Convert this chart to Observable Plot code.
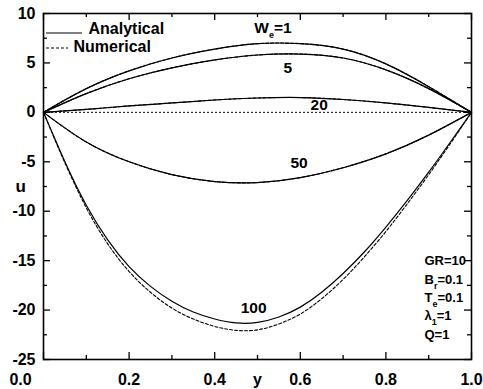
<!DOCTYPE html>
<html>
<head>
<meta charset="utf-8">
<script src="https://cdn.jsdelivr.net/npm/d3@7"></script>
<script src="https://cdn.jsdelivr.net/npm/@observablehq/plot@0.6"></script>
<style>
  body { margin: 0; background: #fff; }
  svg, svg text, svg tspan { font-family: "Liberation Sans", Arial, sans-serif !important; font-weight: 700 !important; }
</style>
</head>
<body>
<div id="chart"></div>
<script>
// Channel position y (0..1) and velocity u for each Weissenberg number
const yPos = [0, 0.1, 0.2, 0.3, 0.4, 0.5, 0.6, 0.7, 0.8, 0.9, 1.0];
const uWe1  = [0, 2.4, 4.2, 5.5, 6.4, 6.95, 6.95, 6.4, 4.9, 2.6, 0];
const uWe5  = [0, 1.9, 3.4, 4.5, 5.3, 5.8, 5.9, 5.5, 4.3, 2.4, 0];
const uWe20 = [0, 0.3, 0.65, 0.95, 1.25, 1.45, 1.5, 1.3, 0.95, 0.5, 0];
const uWe50 = [0, -3.0, -5.0, -6.3, -7.0, -7.1, -6.6, -5.6, -4.2, -2.3, 0];

const yFine = [0, 0.05, 0.1, 0.15, 0.2, 0.25, 0.3, 0.35, 0.4, 0.45, 0.5,
               0.55, 0.6, 0.65, 0.7, 0.75, 0.8, 0.85, 0.9, 0.95, 1.0];
const uWe100    = [0, -5.0, -9.4, -12.9, -15.6, -17.6, -19.1, -20.2, -20.9, -21.3, -21.25,
                   -20.7, -19.7, -18.2, -16.3, -14.1, -11.6, -8.9, -6.05, -3.05, 0];
const uWe100Num = [0, -5.1, -9.65, -13.3, -16.1, -18.2, -19.8, -20.9, -21.65, -22.05, -22.0,
                   -21.4, -20.4, -18.85, -16.9, -14.6, -12.05, -9.25, -6.3, -3.2, 0];

const weValues = [1, 5, 20, 50, 100];
const labelX = [0.536, 0.571, 0.644, 0.597, 0.491];
const labelU = [8.55, 4.45, 0.76, -5.16, -19.78];

const xTicks = [0, 0.2, 0.4, 0.6, 0.8, 1.0];
const xMinor = [0.1, 0.3, 0.5, 0.7, 0.9];
const yTicks = [-25, -20, -15, -10, -5, 0, 5, 10];
const yMinor = [-22.5, -17.5, -12.5, -7.5, -2.5, 2.5, 7.5];

const params = ["GR=10", "B_r=0.1", "T_e=0.1", "λ_1=1", "Q=1"];

// Long-format rows for the line marks
const toRows = (ys, us, we) => ys.map((y, i) => ({y, u: us[i], We: we}));
const analytical = [
  ...toRows(yPos, uWe1, 1),
  ...toRows(yPos, uWe5, 5),
  ...toRows(yPos, uWe20, 20),
  ...toRows(yPos, uWe50, 50),
  ...toRows(yFine, uWe100, 100)
];
const numerical = [
  ...toRows(yPos, uWe1, 1),
  ...toRows(yPos, uWe5, 5),
  ...toRows(yPos, uWe20, 20),
  ...toRows(yPos, uWe50, 50),
  ...toRows(yFine, uWe100Num, 100)
];

const W = 483, H = 389, mL = 43, mR = 12, mT = 13, mB = 30;
const fw = W - mL - mR, fh = H - mT - mB;
const tickFont = {fontSize: 16, fontWeight: "bold", fill: "black"};
const labelFont = {fontSize: 15.5, fontWeight: "bold", fill: "black"};

const plot = Plot.plot({
  width: W, height: H,
  marginLeft: mL, marginRight: mR, marginTop: mT, marginBottom: mB,
  x: {domain: [0, 1]},
  y: {domain: [-25, 10]},
  style: {fontFamily: "'Liberation Sans', Arial, sans-serif", background: "white", color: "black"},
  marks: [
    Plot.ruleY([0], {stroke: "black", strokeWidth: 1, strokeDasharray: "2,2"}),
    Plot.line(analytical, {x: "y", y: "u", z: "We", curve: "natural", stroke: "black", strokeWidth: 1.2}),
    Plot.line(numerical, {x: "y", y: "u", z: "We", curve: "natural", stroke: "black", strokeWidth: 1.1, strokeDasharray: "3,2"}),
    // inward ticks on all four sides
    Plot.tickX(xTicks, {x: d => d, insetTop: fh - 7, strokeWidth: 1.3}),
    Plot.tickX(xTicks, {x: d => d, insetBottom: fh - 7, strokeWidth: 1.3}),
    Plot.tickX(xMinor, {x: d => d, insetTop: fh - 4, strokeWidth: 1.3}),
    Plot.tickX(xMinor, {x: d => d, insetBottom: fh - 4, strokeWidth: 1.3}),
    Plot.tickY(yTicks, {y: d => d, insetRight: fw - 7, strokeWidth: 1.3}),
    Plot.tickY(yTicks, {y: d => d, insetLeft: fw - 7, strokeWidth: 1.3}),
    Plot.tickY(yMinor, {y: d => d, insetRight: fw - 4, strokeWidth: 1.3}),
    Plot.tickY(yMinor, {y: d => d, insetLeft: fw - 4, strokeWidth: 1.3}),
    Plot.frame({stroke: "black", strokeWidth: 1.6}),
    Plot.axisX(xTicks.slice(1), {tickSize: 0, tickPadding: 14, label: null, tickFormat: d => d.toFixed(1), ...tickFont}),
    Plot.text([xTicks[0]], {x: d => d, frameAnchor: "bottom", dy: 14, dx: -23, lineAnchor: "top", text: d => d.toFixed(1), ...tickFont}),
    Plot.axisY(yTicks, {tickSize: 0, tickPadding: 8, label: null, tickFormat: d => String(d), ...tickFont}),
    Plot.text(["u"], {frameAnchor: "left", dx: -28, text: d => d, fontSize: 17, fontWeight: "bold"}),
    Plot.text(["y"], {frameAnchor: "bottom", dy: 14, lineAnchor: "top", text: d => d, ...tickFont}),
    // curve labels
    Plot.text(weValues, {
      x: (d, i) => labelX[i], y: (d, i) => labelU[i],
      text: d => d === 1 ? "W_e=1" : String(d), ...labelFont
    }),
    // parameter block
    ...params.map((p, i) => Plot.text([p], {
      frameAnchor: "top-left", dx: 381, dy: 247.5 + i * 18.4,
      textAnchor: "start", lineAnchor: "middle", text: d => d, fontSize: 13, fontWeight: "bold"
    })),
    // legend labels
    Plot.text(["Analytical"], {frameAnchor: "top-left", dx: 45, dy: 20, textAnchor: "start", lineAnchor: "bottom", text: d => d, fontSize: 16, fontWeight: "bold"}),
    Plot.text(["Numerical"], {frameAnchor: "top-left", dx: 30, dy: 38, textAnchor: "start", lineAnchor: "bottom", text: d => d, fontSize: 16, fontWeight: "bold"})
  ]
});

// Turn "X_s" into a subscripted tspan
const NS = "http://www.w3.org/2000/svg";
plot.querySelectorAll("text").forEach(t => {
  const m = t.textContent.match(/^(.*?)_(.)(.*)$/);
  if (!m) return;
  t.textContent = "";
  const a = document.createElementNS(NS, "tspan");
  a.textContent = m[1];
  const b = document.createElementNS(NS, "tspan");
  b.textContent = m[2];
  b.setAttribute("font-size", "9");
  b.setAttribute("dy", "5");
  const c = document.createElementNS(NS, "tspan");
  c.textContent = m[3];
  c.setAttribute("dy", "-5");
  t.append(a, b, c);
});

// Legend line samples
const svg = d3.select(plot);
const lg = svg.append("g").attr("stroke", "black").attr("stroke-width", 1);
lg.append("line").attr("x1", 46).attr("x2", 82).attr("y1", 33).attr("y2", 33);
lg.append("line").attr("x1", 46).attr("x2", 68).attr("y1", 48).attr("y2", 48).attr("stroke-dasharray", "3,2");

document.getElementById("chart").append(plot);
</script>
</body>
</html>
